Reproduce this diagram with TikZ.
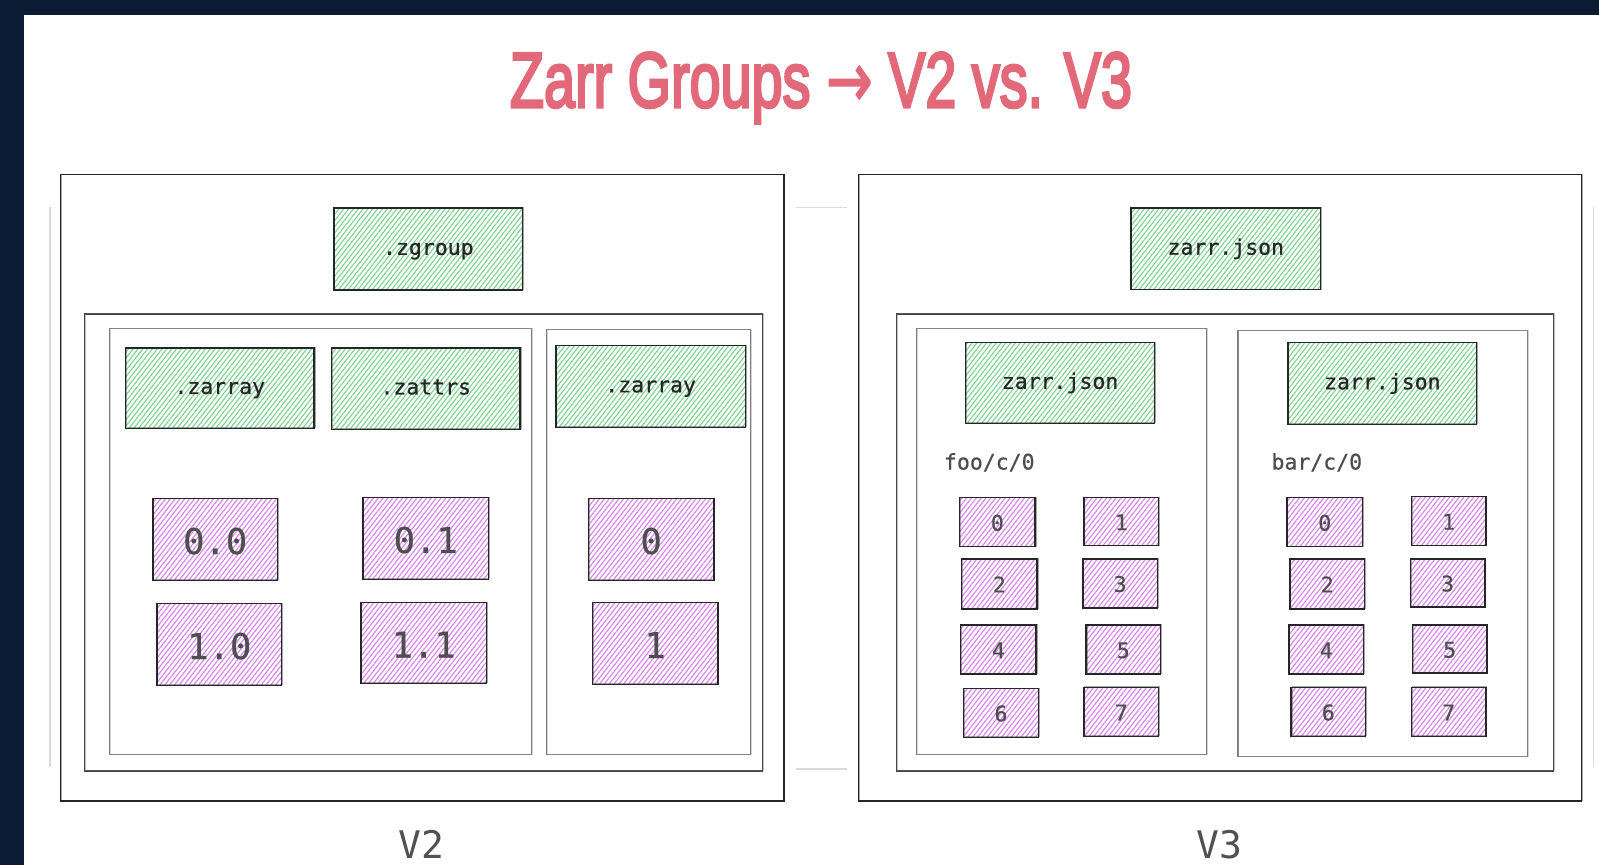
\documentclass[tikz,border=0pt]{standalone}
\usepackage{fontspec}
\usepackage{graphicx}
\usetikzlibrary{patterns.meta}
\newfontfamily\codefont[FakeBold=0.6]{DejaVu Sans Mono}
\newfontfamily\labelfont{DejaVu Sans Mono}
\newfontfamily\titlefont[FakeBold=4]{Liberation Sans}
\newfontfamily\symfont[FakeBold=2]{DejaVu Sans}
\definecolor{navy}{HTML}{0B1B33}
\definecolor{titlered}{HTML}{E2697A}
\definecolor{hatchgreen}{HTML}{86D598}
\definecolor{hatchpink}{HTML}{D98BEE}
\definecolor{ink}{HTML}{262626}
\definecolor{chunkink}{HTML}{4E4E4E}
\definecolor{faint}{HTML}{D9D9D9}

% box given by its corners: name, x1, y1, x2, y2, style, text
\newcommand\bx[7]{%
  \node[#6, minimum width={(#4-#2)*1pt}, minimum height={(#5-#3)*1pt}]
    (#1) at ({(#2+#4)/2},{(#3+#5)/2}) {#7};}

\tikzset{
  every node/.style={inner sep=0pt, outer sep=0pt, rectangle},
  rough/.style={postaction={draw=#1, line width=0.6pt, opacity=0.4,
      transform canvas={shift={(0.7pt,0.6pt)}}}},
  panel/.style={draw=ink, line width=1.4pt, fill=white, rough=ink},
  grp/.style={draw=ink!85, line width=1.3pt, fill=white, rough=ink!70},
  arr/.style={draw=ink!60, line width=1.1pt, fill=white, rough=ink!50},
  hatch/.style={draw=ink, line width=1.4pt, rough=ink,
      pattern={Lines[angle=52, distance=3.8pt, line width=1.25pt]},
      pattern color=#1},
  meta/.style={hatch=hatchgreen, text=ink, text height=11.8pt, text depth=0pt,
      font=\codefont\fontsize{21.5}{24}\selectfont},
  bigchunk/.style={hatch=hatchpink, text=chunkink, text height=29pt, text depth=0pt,
      font=\codefont\fontsize{35.5}{38}\selectfont},
  chunk/.style={hatch=hatchpink, text=chunkink, text height=17pt, text depth=0pt,
      font=\codefont\fontsize{21.5}{24}\selectfont},
  pathlabel/.style={anchor=base west, text=chunkink,
      font=\codefont\fontsize{21.5}{24}\selectfont},
  verlabel/.style={anchor=base, text=ink!80,
      font=\labelfont\fontsize{38}{40}\selectfont},
  faintline/.style={draw=faint, line width=1.2pt},
}

\begin{document}
\begin{tikzpicture}[x=1pt, y=-1pt]
  \useasboundingbox (0,0) rectangle (1599,865);
  % slide background
  \fill[navy] (0,0) rectangle (1599,865);
  \fill[white] (24,14.7) rectangle (1599,865);

  % title
  \node[anchor=base, text=titlered] (title) at (821,107)
    {\resizebox{622pt}{\height}{\fontsize{78}{80}\titlefont Zarr Groups {\symfont →} V2 vs. V3}};

  % faint guide strokes around and between the panels
  \coordinate (gl1) at (50,207);    \coordinate (gl2) at (50,767);
  \coordinate (gr1) at (1593.3,207); \coordinate (gr2) at (1593.3,767);
  \coordinate (gt1) at (796,207.7);  \coordinate (gt2) at (847.3,207.7);
  \coordinate (gb1) at (796,769);    \coordinate (gb2) at (847.3,769);
  \draw[faintline] (gl1) -- (gl2);
  \draw[faintline] (gr1) -- (gr2);
  \draw[faintline] (gt1) -- (gt2);
  \draw[faintline] (gb1) -- (gb2);

  % ---------------- V2 ----------------
  \bx{vtwo}{60.5}{174.5}{784}{801}{panel}{}
  \bx{zgroup}{334}{208}{522.7}{290}{meta}{.zgroup}
  \bx{grptwo}{84.6}{314.1}{762.8}{771}{grp}{}
  \bx{arrA}{109.1}{328.4}{531.3}{754.7}{arr}{}
  \bx{arrB}{546.6}{329.4}{750.6}{754.7}{arr}{}
  \bx{zarrayA}{125.4}{347.8}{314.1}{428.3}{meta}{.zarray}
  \bx{zattrsA}{331.4}{347.8}{520.1}{429.3}{meta}{.zattrs}
  \bx{zarrayB}{555.8}{345.7}{745.5}{427.3}{meta}{.zarray}
  \bx{cAoo}{153}{498.7}{277.4}{580.3}{bigchunk}{0.0}
  \bx{cAoi}{363}{497.7}{488.5}{579.2}{bigchunk}{0.1}
  \bx{cAio}{157}{603.7}{281.5}{685.3}{bigchunk}{1.0}
  \bx{cAii}{361}{602.7}{486.4}{683.3}{bigchunk}{1.1}
  \bx{cBo}{588.4}{498.7}{713.9}{580.3}{bigchunk}{0}
  \bx{cBi}{592.5}{602.7}{717.9}{684.3}{bigchunk}{1}
  \node[verlabel] (lbltwo) at (421.7,858) {V2};

  % ---------------- V3 ----------------
  \bx{vthree}{858.7}{174.5}{1581.7}{801}{panel}{}
  \bx{rootjson}{1131}{208}{1320.6}{289.6}{meta}{zarr.json}
  \bx{grpthree}{896.4}{314.1}{1553.2}{771}{grp}{}
  \bx{foo}{916.8}{328.4}{1206.4}{754.7}{arr}{}
  \bx{bar}{1238}{330.4}{1527.7}{756.7}{arr}{}
  \bx{foojson}{965.7}{342.7}{1154.4}{423.2}{meta}{zarr.json}
  \bx{barjson}{1288}{342.7}{1476.7}{424.2}{meta}{zarr.json}
  \node[pathlabel] (foolbl) at (944,469.5) {foo/c/0};
  \node[pathlabel] (barlbl) at (1271.5,469.5) {bar/c/0};
  % foo chunks
  \bx{fzero}{959.6}{497.7}{1035.1}{546.6}{chunk}{0}
  \bx{fone}{1084}{497.7}{1158.5}{545.6}{chunk}{1}
  \bx{ftwo}{961.7}{558.9}{1037.1}{608.8}{chunk}{2}
  \bx{fthree}{1083}{558.9}{1157.5}{607.8}{chunk}{3}
  \bx{ffour}{960.7}{625.1}{1036.1}{674.1}{chunk}{4}
  \bx{ffive}{1086.1}{625.1}{1160.5}{674.1}{chunk}{5}
  \bx{fsix}{963.7}{688.4}{1038.2}{737.3}{chunk}{6}
  \bx{fseven}{1084}{687.3}{1158.5}{736.3}{chunk}{7}
  % bar chunks
  \bx{bzero}{1287}{497.7}{1362.5}{546.6}{chunk}{0}
  \bx{bone}{1411.4}{496.6}{1485.8}{545.6}{chunk}{1}
  \bx{btwo}{1290}{558.9}{1364.5}{608.8}{chunk}{2}
  \bx{bthree}{1410.4}{558.9}{1484.8}{606.8}{chunk}{3}
  \bx{bfour}{1289}{625.1}{1363.5}{674.1}{chunk}{4}
  \bx{bfive}{1412.4}{625.1}{1486.9}{673.1}{chunk}{5}
  \bx{bsix}{1291.1}{687.3}{1365.5}{736.3}{chunk}{6}
  \bx{bseven}{1411.4}{687.3}{1485.8}{736.3}{chunk}{7}
  \node[verlabel] (lblthree) at (1219.2,858) {V3};
\end{tikzpicture}
\end{document}
